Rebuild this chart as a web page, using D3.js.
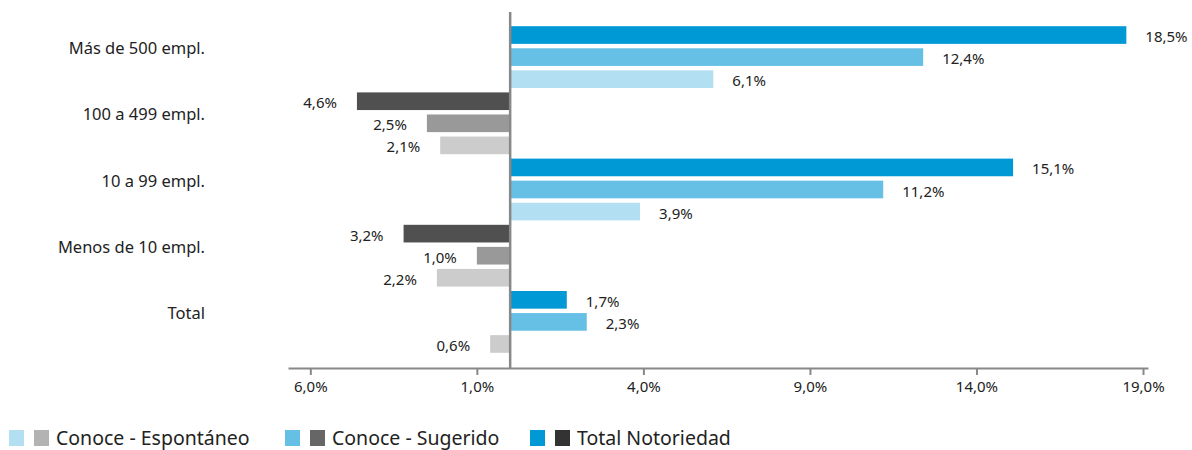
<!DOCTYPE html>
<html><head><meta charset="utf-8">
<script src="https://cdn.jsdelivr.net/npm/d3@7"></script>
<style>
body{margin:0;background:#fff;}
svg{display:block;font-family:"Noto Sans",sans-serif;}
</style></head>
<body>
<svg id="chart" width="1192" height="450"></svg>
<script>
const categories = ["Más de 500 empl.", "100 a 499 empl.", "10 a 99 empl.", "Menos de 10 empl.", "Total"];
const seriesNames = ["Total Notoriedad", "Conoce - Sugerido", "Conoce - Espontáneo"];
const totalNotoriedad = [18.5, -4.6, 15.1, -3.2, 1.7];
const conoceSugerido = [12.4, -2.5, 11.2, -1.0, 2.3];
const conoceEspontaneo = [6.1, -2.1, 3.9, -2.2, -0.6];
const tickValues = [-6, -1, 4, 9, 14, 19];
const legendItems = ["Conoce - Espontáneo", "Conoce - Sugerido", "Total Notoriedad"];

const posColors = {"Total Notoriedad":"#0098D5","Conoce - Sugerido":"#66C0E5","Conoce - Espontáneo":"#B2E0F2"};
const negColors = {"Total Notoriedad":"#505050","Conoce - Sugerido":"#999999","Conoce - Espontáneo":"#CCCCCC"};
const legendColors = {"Conoce - Espontáneo":["#B2E0F2","#B3B3B3"],"Conoce - Sugerido":["#66C0E5","#666666"],"Total Notoriedad":["#0098D5","#333333"]};

const seriesValues = {"Total Notoriedad":totalNotoriedad,"Conoce - Sugerido":conoceSugerido,"Conoce - Espontáneo":conoceEspontaneo};
const rows = [];
categories.forEach((c,i)=>seriesNames.forEach(s=>rows.push({cat:c,series:s,value:seriesValues[s][i]})));

const svg = d3.select("#chart");
const x = d3.scaleLinear().domain([-6.67, 19.15]).range([288, 1148]);
const y0 = d3.scaleBand().domain(categories).range([24, 355]).paddingInner(0).paddingOuter(0);
const y1 = d3.scaleBand().domain(seriesNames).range([0, y0.bandwidth()]).paddingInner(0.2).paddingOuter(0.1);
const fmt = v => d3.format(".1f")(Math.abs(v)).replace(".", ",") + "%";

// bars
svg.append("g").selectAll("rect").data(rows).join("rect")
  .attr("x", d => x(Math.min(0, d.value)))
  .attr("width", d => Math.abs(x(d.value) - x(0)))
  .attr("y", d => y0(d.cat) + y1(d.series))
  .attr("height", y1.bandwidth())
  .attr("fill", d => d.value >= 0 ? posColors[d.series] : negColors[d.series]);

// value labels
svg.append("g").selectAll("text").data(rows).join("text")
  .attr("x", d => d.value >= 0 ? x(d.value) + 19 : x(d.value) - 20)
  .attr("y", d => y0(d.cat) + y1(d.series) + y1.bandwidth()/2 + 7)
  .attr("text-anchor", d => d.value >= 0 ? "start" : "end")
  .attr("font-size", 15).attr("fill", "#222")
  .text(d => fmt(d.value));

// category labels
svg.append("g").selectAll("text").data(categories).join("text")
  .attr("x", 205)
  .attr("y", d => y0(d) + y0.bandwidth()/2 - 3)
  .attr("text-anchor", "end")
  .attr("font-size", 16.5).attr("fill", "#222")
  .text(d => d);

// x axis
const ax = svg.append("g").attr("transform", "translate(0,368)")
  .call(d3.axisBottom(x).tickValues(tickValues).tickSize(7).tickSizeOuter(0).tickFormat(fmt));
ax.select(".domain").attr("stroke", "#888").attr("stroke-width", 2);
ax.selectAll(".tick line").attr("stroke", "#888").attr("stroke-width", 2);
ax.selectAll(".tick text").attr("font-size", 15).attr("fill", "#222").attr("font-family", "Noto Sans, sans-serif").attr("dy", "0.9em");

// zero line
svg.append("line").attr("x1", x(0)).attr("x2", x(0)).attr("y1", 12).attr("y2", 368)
  .attr("stroke", "#888").attr("stroke-width", 2.5);

// legend
const legendX = [9, 285, 530];
const lg = svg.append("g").selectAll("g").data(legendItems).join("g")
  .attr("transform", (d,i) => `translate(${legendX[i]},430)`);
lg.append("rect").attr("width", 15).attr("height", 16).attr("fill", d => legendColors[d][0]);
lg.append("rect").attr("x", 25).attr("width", 15).attr("height", 16).attr("fill", d => legendColors[d][1]);
lg.append("text").attr("x", 47).attr("y", 15).attr("font-size", 19.5).attr("fill", "#222").text(d => d);
</script>
</body></html>
